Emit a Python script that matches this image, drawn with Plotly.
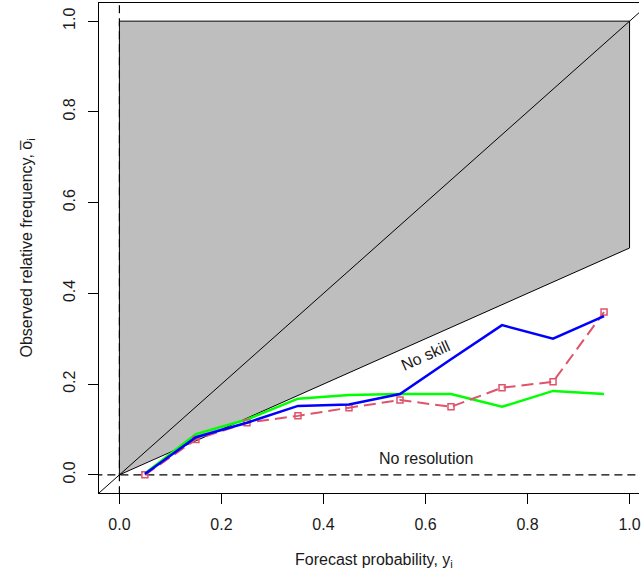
import plotly.graph_objects as go

# ---- data ----
prob = [0.05, 0.15, 0.25, 0.35, 0.45, 0.55, 0.65, 0.75, 0.85, 0.95]
obs_blue = [0.002, 0.083, 0.115, 0.152, 0.155, 0.178, 0.255, 0.330, 0.300, 0.350]
obs_green = [0.003, 0.090, 0.122, 0.168, 0.176, 0.178, 0.178, 0.150, 0.185, 0.178]
obs_red = [0.0, 0.078, 0.115, 0.130, 0.148, 0.165, 0.150, 0.192, 0.205, 0.359]
x_ticks = [0.0, 0.2, 0.4, 0.6, 0.8, 1.0]
y_ticks = [0.0, 0.2, 0.4, 0.6, 0.8, 1.0]
clim = 0.0

FONT = "Liberation Sans, Arial, sans-serif"
TXT = "#1a1a1a"

fig = go.Figure()

# skill region polygon
fig.add_trace(go.Scatter(
    x=[clim, clim, 1, 1, clim], y=[0, 1, 1, 0.5, 0],
    mode="lines", fill="toself", fillcolor="#BEBEBE",
    line=dict(color="black", width=1), hoverinfo="skip", showlegend=False))
# perfect reliability diagonal
fig.add_trace(go.Scatter(x=[-0.1, 1.2], y=[-0.1, 1.2], mode="lines",
                         line=dict(color="black", width=1), showlegend=False))
# no resolution (horizontal) and climatology (vertical) dashed lines
fig.add_trace(go.Scatter(x=[-0.1, 1.2], y=[clim, clim], mode="lines",
                         line=dict(color="black", width=1.2, dash="8px,5px"), showlegend=False))
fig.add_trace(go.Scatter(x=[clim, clim], y=[-0.1, 1.2], mode="lines",
                         line=dict(color="black", width=1.2, dash="8px,5px"), showlegend=False))

# series
fig.add_trace(go.Scatter(x=prob, y=obs_green, mode="lines",
                         line=dict(color="#00FF00", width=2.5), showlegend=False))
fig.add_trace(go.Scatter(x=prob, y=obs_red, mode="lines+markers",
                         line=dict(color="#DF536B", width=2, dash="12px,6px"),
                         marker=dict(symbol="square-open", size=6, color="#DF536B",
                                     line=dict(width=1.5, color="#DF536B")),
                         showlegend=False))
fig.add_trace(go.Scatter(x=prob, y=obs_blue, mode="lines",
                         line=dict(color="#0000FF", width=2.5), showlegend=False))

fig.update_layout(
    width=641, height=577,
    margin=dict(l=99, r=0, t=3, b=84),
    paper_bgcolor="white", plot_bgcolor="white",
    font=dict(family=FONT, size=15, color=TXT),
    showlegend=False,
    xaxis=dict(range=[-0.04, 1.0185], tickvals=x_ticks,
               ticktext=[f"{v:.1f}" for v in x_ticks],
               showgrid=False, zeroline=False, showline=True, linecolor="black",
               linewidth=1, mirror=True, ticks="outside", ticklen=10,
               tickcolor="black", ticklabeloverflow="allow", ticklabelstandoff=7,
               tickfont=dict(size=16, color=TXT)),
    yaxis=dict(range=[-0.04, 1.04], tickvals=y_ticks,
               ticktext=[f"{v:.1f}" for v in y_ticks],
               showgrid=False, zeroline=False, showline=True, linecolor="black",
               linewidth=1, ticks="outside", ticklen=10, tickangle=-90,
               tickcolor="black", ticklabeloverflow="allow", ticklabelstandoff=7,
               tickfont=dict(size=16, color=TXT)),
    annotations=[
        dict(text="Forecast probability, y<sub>i</sub>", xref="paper", yref="paper",
             x=0.509, y=0, yshift=-79, showarrow=False, font=dict(size=16, color=TXT)),
        dict(text="Observed relative frequency, o\u0305<sub>i</sub>", xref="paper", yref="paper",
             x=0, xshift=-84, y=0.5, textangle=-90, showarrow=False,
             font=dict(size=16, color=TXT)),
        dict(text="No skill", x=0.6, y=0.262, xref="x", yref="y", textangle=-24,
             showarrow=False, font=dict(size=16, color=TXT)),
        dict(text="No resolution", x=0.6, y=0.035, xref="x", yref="y",
             showarrow=False, font=dict(size=16, color=TXT)),
    ],
)

fig.write_html("out.html")
